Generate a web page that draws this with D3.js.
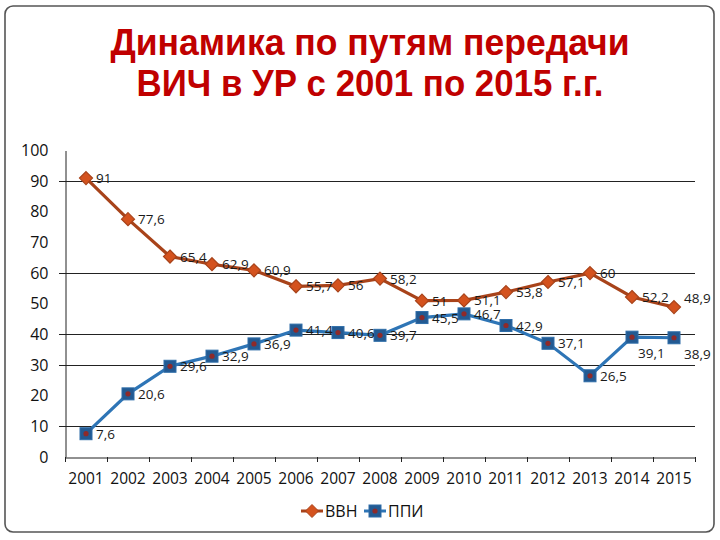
<!DOCTYPE html>
<html><head><meta charset="utf-8">
<script src="https://cdn.jsdelivr.net/npm/d3@7"></script>
<style>html,body{margin:0;padding:0;background:#fff;}svg{display:block;}</style>
</head><body>
<svg id="chart" width="720" height="540"></svg>
<script>
const titleLines = ["Динамика по путям передачи", "ВИЧ в УР с 2001 по 2015 г.г."];
const years = ["2001","2002","2003","2004","2005","2006","2007","2008","2009","2010","2011","2012","2013","2014","2015"];
const seriesNames = ["ВВН", "ППИ"];
const vvn = [91, 77.6, 65.4, 62.9, 60.9, 55.7, 56, 58.2, 51, 51.1, 53.8, 57.1, 60, 52.2, 48.9];
const ppi = [7.6, 20.6, 29.6, 32.9, 36.9, 41.4, 40.6, 39.7, 45.5, 46.7, 42.9, 37.1, 26.5, 39.1, 38.9];
const yTicks = [0, 10, 20, 30, 40, 50, 60, 70, 80, 90, 100];
const gridValues = [10, 30, 40, 60, 90];

const svg = d3.select("#chart");
const font = "'Open Sans', 'Liberation Sans', sans-serif";

// frame
svg.append("rect").attr("x", 5).attr("y", 6).attr("width", 709).attr("height", 526)
  .attr("rx", 8).attr("fill", "#fff").attr("stroke", "#555").attr("stroke-width", 1.6);

// title
const titleWidths = [519, 467];
svg.selectAll("text.title").data(titleLines).join("text")
  .attr("class", "title")
  .attr("x", 370).attr("y", (d, i) => 55 + i * 41)
  .attr("text-anchor", "middle")
  .attr("textLength", (d, i) => titleWidths[i])
  .attr("lengthAdjust", "spacingAndGlyphs")
  .attr("font-family", "'Liberation Sans', Arial, sans-serif")
  .attr("font-weight", "bold").attr("font-size", 36)
  .attr("fill", "#C00000").text(d => d);

const pLeft = 65, pRight = 695, pTop = 150.5, pBottom = 457;
const x = d3.scaleBand().domain(years).range([pLeft, pRight]);
const y = d3.scaleLinear().domain([0, 100]).range([pBottom, pTop]);
const cx = d => x(d) + x.bandwidth() / 2;

// gridlines
svg.append("g").selectAll("line").data(gridValues).join("line")
  .attr("x1", pLeft - 6).attr("x2", pRight)
  .attr("y1", d => Math.round(y(d)) + 0.5).attr("y2", d => Math.round(y(d)) + 0.5)
  .attr("stroke", "#222").attr("stroke-width", 1);

// y axis
const yAxis = svg.append("g").attr("transform", `translate(${pLeft + 0.5},0)`)
  .call(d3.axisLeft(y).tickValues(yTicks).tickSize(0).tickPadding(17).tickFormat(d3.format("d")));
yAxis.select(".domain").attr("stroke", "#222");
yAxis.selectAll("text").attr("font-family", font).attr("font-size", 16).attr("fill", "#111");

// x axis
const xAxis = svg.append("g").attr("transform", `translate(0,${pBottom + 0.5})`)
  .call(d3.axisBottom(x).tickSize(0).tickPadding(15));
xAxis.select(".domain").attr("stroke", "#222");
xAxis.selectAll("text").attr("font-family", font).attr("font-size", 15.5).attr("fill", "#111");
const bounds = years.map(d => x(d)).concat([pRight]);
svg.append("g").selectAll("line").data(bounds).join("line")
  .attr("x1", d => Math.round(d) + 0.5).attr("x2", d => Math.round(d) + 0.5)
  .attr("y1", pBottom).attr("y2", pBottom + 5).attr("stroke", "#222");

const fmt = v => String(v).replace(".", ",");
const line = d3.line().x((d, i) => cx(years[i])).y(d => y(d));

// ППИ series
const blueLine = "#2E75B6";
svg.append("path").datum(ppi).attr("d", line).attr("fill", "none")
  .attr("stroke", blueLine).attr("stroke-width", 3.2);
const ppiG = svg.append("g").selectAll("g").data(ppi).join("g")
  .attr("transform", (d, i) => `translate(${cx(years[i])},${y(d)})`);
ppiG.append("rect").attr("x", -6).attr("y", -6).attr("width", 12).attr("height", 12)
  .attr("fill", "#235A92").attr("stroke", "#2E6DA8").attr("stroke-width", 1);
ppiG.append("circle").attr("r", 2.6).attr("fill", "#8E2A2A");

// ВВН series
const brownLine = "#A8431A";
svg.append("path").datum(vvn).attr("d", line).attr("fill", "none")
  .attr("stroke", brownLine).attr("stroke-width", 3.2);
const diamond = "M0,-6.5L6.5,0L0,6.5L-6.5,0Z";
svg.append("g").selectAll("path").data(vvn).join("path")
  .attr("d", diamond)
  .attr("transform", (d, i) => `translate(${cx(years[i])},${y(d)})`)
  .attr("fill", "#D4521E").attr("stroke", "#A8431A").attr("stroke-width", 1.2);

// data labels
const vvnLabelDy = years.map((d, i) => i === 14 ? -4 : 5);
const ppiLabelDy = years.map((d, i) => (i === 13 || i === 14) ? 21 : 5);
const ppiLabelDx = years.map((d, i) => (i === 13) ? 6 : 10);
const labelStyle = sel => sel.attr("font-family", font).attr("font-size", 13.5).attr("fill", "#1a1a1a");
svg.append("g").selectAll("text").data(vvn).join("text")
  .attr("x", (d, i) => cx(years[i]) + 10).attr("y", (d, i) => y(d) + vvnLabelDy[i])
  .call(labelStyle).text(d => fmt(d));
svg.append("g").selectAll("text").data(ppi).join("text")
  .attr("x", (d, i) => cx(years[i]) + ppiLabelDx[i]).attr("y", (d, i) => y(d) + ppiLabelDy[i])
  .call(labelStyle).text(d => fmt(d));

// legend
const legend = svg.append("g").attr("transform", "translate(0,511)");
const lg1 = legend.append("g").attr("transform", "translate(301,0)");
lg1.append("line").attr("x1", 0).attr("x2", 22).attr("stroke", brownLine).attr("stroke-width", 3);
lg1.append("path").attr("d", diamond).attr("transform", "translate(11,0)")
  .attr("fill", "#D4521E").attr("stroke", "#A8431A");
lg1.append("text").attr("x", 24).attr("y", 6).attr("font-family", font).attr("font-size", 16)
  .attr("fill", "#111").text(seriesNames[0]);
const lg2 = legend.append("g").attr("transform", "translate(364,0)");
lg2.append("line").attr("x1", 0).attr("x2", 22).attr("stroke", blueLine).attr("stroke-width", 3);
lg2.append("rect").attr("x", 5).attr("y", -6).attr("width", 12).attr("height", 12)
  .attr("fill", "#235A92").attr("stroke", "#2E6DA8");
lg2.append("circle").attr("cx", 11).attr("r", 2.6).attr("fill", "#8E2A2A");
lg2.append("text").attr("x", 24).attr("y", 6).attr("font-family", font).attr("font-size", 16)
  .attr("fill", "#111").text(seriesNames[1]);
</script>
</body></html>
